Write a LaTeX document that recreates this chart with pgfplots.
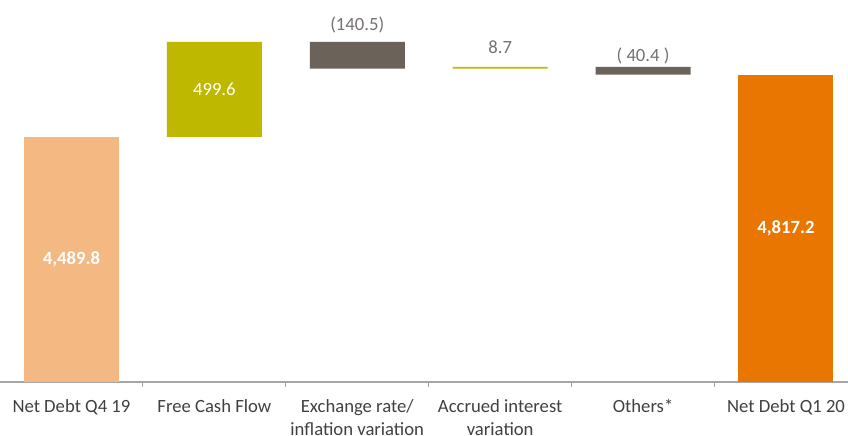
\documentclass[border=0pt]{standalone}
\usepackage{pgfplots}
\pgfplotsset{compat=1.18}
\usepackage{fontspec}
\setmainfont{Carlito}
\definecolor{peach}{HTML}{F4B883}
\definecolor{olive}{HTML}{BFB800}
\definecolor{darkgrey}{HTML}{6B6259}
\definecolor{orangebar}{HTML}{E97600}
\definecolor{axisgray}{HTML}{A6A6A6}
\definecolor{labelgray}{HTML}{404040}
\definecolor{valgray}{HTML}{767171}
\begin{document}
\begin{tikzpicture}
\begin{axis}[
  at={(0,0)}, anchor=south west,
  scale only axis, width=636pt, height=286.5pt,
  ybar stacked, bar width=71.25pt,
  xmin=-0.5, xmax=5.434, ymin=3200, ymax=5210,
  axis y line=none, axis x line=bottom,
  x axis line style={draw=axisgray, line width=0.8pt, -},
  xtick={0,1,2,3,4,5},
  xticklabels={Net Debt Q4 19, Free Cash Flow, {Exchange rate/\\inflation variation}, {Accrued interest\\variation}, Others*, Net Debt Q1 20},
  major x tick style={draw=none},
  minor xtick={0.5,1.5,2.5,3.5,4.5},
  minor x tick style={draw=axisgray, line width=0.8pt},
  minor tick length=4pt, tick align=outside,
  xticklabel style={align=center, font=\fontsize{14}{17.5}\selectfont, text=labelgray, yshift=-5pt},
]
\addplot[fill=none, draw=none] coordinates {(0,0) (1,4489.8) (2,4848.9) (3,4848.9) (4,4817.2) (5,0)};
\addplot[fill=peach, draw=none] coordinates {(0,4489.8) (1,0) (2,0) (3,0) (4,0) (5,0)};
\addplot[fill=olive, draw=none] coordinates {(0,0) (1,499.6) (2,0) (3,8.7) (4,0) (5,0)};
\addplot[fill=darkgrey, draw=none] coordinates {(0,0) (1,0) (2,140.5) (3,0) (4,40.4) (5,0)};
\addplot[fill=orangebar, draw=none] coordinates {(0,0) (1,0) (2,0) (3,0) (4,0) (5,4817.2)};
\coordinate (L0) at (axis cs:0,3845);
\coordinate (L1) at (axis cs:1,4739.6);
\coordinate (L2) at (axis cs:2,5078);
\coordinate (L3) at (axis cs:3,4963);
\coordinate (L4) at (axis cs:4,4916);
\coordinate (L5) at (axis cs:5,4008);
\end{axis}
\node[text=white, font=\fontsize{14}{16}\selectfont\bfseries] at (L0) {4,489.8};
\node[text=white, font=\fontsize{14}{16}\selectfont] at (L1) {499.6};
\node[text=valgray, font=\fontsize{14}{16}\selectfont] at (L2) {(140.5)};
\node[text=valgray, font=\fontsize{14}{16}\selectfont] at (L3) {8.7};
\node[text=valgray, font=\fontsize{14}{16}\selectfont] at (L4) {( 40.4 )};
\node[text=white, font=\fontsize{14}{16}\selectfont\bfseries] at (L5) {4,817.2};
\pgfresetboundingbox
\path[use as bounding box] (0,-39.75pt) rectangle (636pt,286.5pt);
\end{tikzpicture}
\end{document}
